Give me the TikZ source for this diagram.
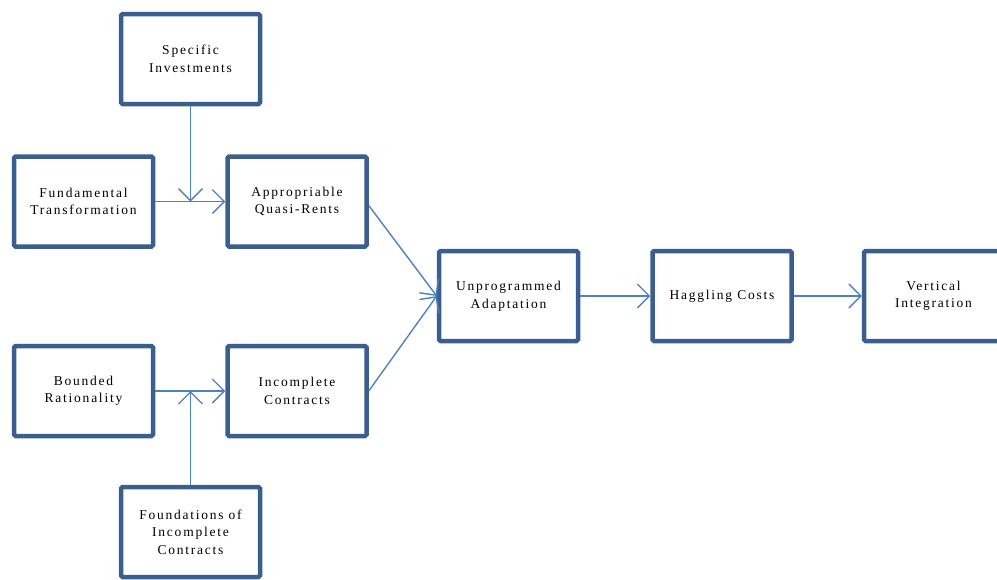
\documentclass[tikz,border=0pt]{standalone}
\usepackage{fontspec}
\setmainfont{Liberation Serif}[LetterSpace=13]
\usetikzlibrary{arrows.meta}
\definecolor{boxblue}{HTML}{3A5F8E}
\definecolor{arrblue}{HTML}{4F81BD}
\begin{document}
\begin{tikzpicture}[x=1pt,y=-1pt,
  box/.style={draw=boxblue, line width=4.5pt, rounded corners=1.5pt, fill=white,
    minimum width=139pt, minimum height=90pt, align=center, inner sep=2pt,
    font=\fontsize{13.5}{17.5}\selectfont},
  conn/.style={draw=arrblue, line width=1.4pt},
  arr/.style={conn, -{Straight Barb[length=12pt,width=24pt]}}]
\useasboundingbox (0,0) rectangle (997,579);
\begin{scope}
\clip (0,0) rectangle (997,579);
\node[box] (spec) at (190.5,59) {Specific\\Investments};
\node[box] (fund) at (83.5,201.5) {Fundamental\\Transformation};
\node[box] (appr) at (297,201.5) {Appropriable\\Quasi-Rents};
\node[box] (bound) at (83.5,391) {Bounded\\Rationality};
\node[box] (inc) at (297,391) {Incomplete\\Contracts};
\node[box] (found) at (190.5,532) {Foundations of\\Incomplete\\Contracts};
\node[box] (unp) at (508.5,296) {Unprogrammed\\Adaptation};
\node[box] (hag) at (722,296) {Haggling Costs};
\node[box] (vert) at (933.5,296) {Vertical\\Integration};
\coordinate (j1) at (spec.south |- fund.east);
\coordinate (j2) at (found.north |- bound.east);
\draw[arr] (fund.east) -- (appr.west);
\draw[arr] (spec.south) -- (j1);
\draw[arr] (bound.east) -- (inc.west);
\draw[arr] (found.north) -- (j2);
\draw[arr] ([yshift=-4pt]appr.east) -- (unp.west);
\draw[arr] (inc.east) -- (unp.west);
\draw[arr] (unp.east) -- (hag.west);
\draw[arr] (hag.east) -- (vert.west);
\end{scope}
\end{tikzpicture}
\end{document}
